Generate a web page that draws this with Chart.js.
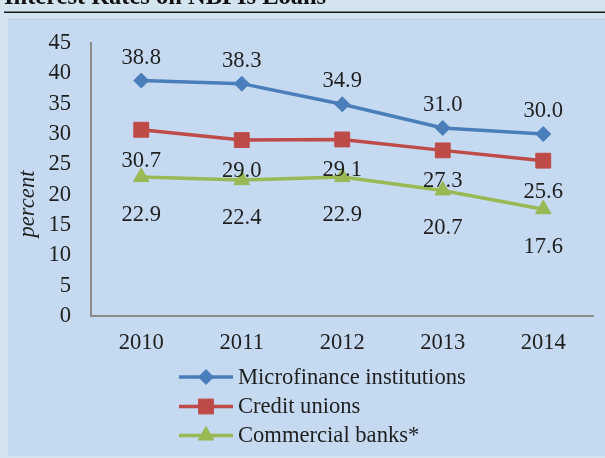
<!DOCTYPE html>
<html>
<head>
<meta charset="utf-8">
<script src="https://cdn.jsdelivr.net/npm/chart.js@4/dist/chart.umd.min.js"></script>
<style>
  html, body { margin: 0; padding: 0; width: 605px; height: 458px; overflow: hidden; background: #d3e4ee; }
  #panel { position: absolute; left: 8px; top: 19px; width: 597px; height: 437px; background: #c5d9f0; border-top: 1px solid #b6cbe3; box-sizing: border-box; }
  #wrap { position: absolute; left: 0; top: 0; width: 605px; height: 458px; }
</style>
</head>
<body>
<div id="panel"></div>
<div id="wrap"><canvas id="c" width="605" height="458"></canvas></div>
<script>
const categories = ['2010', '2011', '2012', '2013', '2014'];
const microfinance = [38.8, 38.3, 34.9, 31.0, 30.0];
const creditUnions = [30.7, 29.0, 29.1, 27.3, 25.6];
const commercialBanks = [22.9, 22.4, 22.9, 20.7, 17.6];
const seriesNames = ['Microfinance institutions', 'Credit unions', 'Commercial banks*'];
const chartTitle = 'Interest Rates on NBFIs Loans';
const yAxisLabel = 'percent';

const SERIF = '"Liberation Serif", "Times New Roman", serif';
const FS = 22.6;
const labelOffsets = [-23, 31, 37.5];

const overlay = {
  id: 'overlay',
  beforeDraw(chart) {
    const ctx = chart.ctx;
    ctx.save();
    ctx.font = 'bold 24.5px ' + SERIF;
    ctx.fillStyle = '#111';
    ctx.textAlign = 'left';
    ctx.textBaseline = 'alphabetic';
    ctx.fillText(chartTitle, 4, 4);
    ctx.strokeStyle = '#1a1a1a';
    ctx.lineWidth = 1.6;
    ctx.beginPath();
    ctx.moveTo(4, 12.3);
    ctx.lineTo(605, 12.3);
    ctx.stroke();
    ctx.restore();
  },
  afterDatasetsDraw(chart) {
    const ctx = chart.ctx;
    ctx.save();
    ctx.font = FS + 'px ' + SERIF;
    ctx.fillStyle = '#1f1f1f';
    ctx.textAlign = 'center';
    ctx.textBaseline = 'middle';
    chart.data.datasets.forEach((ds, i) => {
      const meta = chart.getDatasetMeta(i);
      meta.data.forEach((pt, j) => {
        ctx.fillText(ds.data[j].toFixed(1), pt.x, pt.y + labelOffsets[i]);
      });
    });
    // y axis title
    ctx.save();
    ctx.font = 'italic ' + FS + 'px ' + SERIF;
    ctx.translate(28.5, 204);
    ctx.rotate(-Math.PI / 2);
    ctx.fillText(yAxisLabel, 0, 0);
    ctx.restore();
    // legend
    const rowsY = [377, 406.5, 435.5];
    chart.data.datasets.forEach((ds, i) => {
      const y = rowsY[i];
      ctx.strokeStyle = ds.borderColor;
      ctx.lineWidth = ds.borderWidth;
      ctx.beginPath();
      ctx.moveTo(179, y);
      ctx.lineTo(233, y);
      ctx.stroke();
      ctx.fillStyle = ds.pointBackgroundColor;
      ctx.strokeStyle = ds.borderColor;
      ctx.lineWidth = 1;
      Chart.helpers.drawPoint(ctx, { pointStyle: ds.pointStyle, radius: ds.pointRadius, rotation: 0, borderWidth: 1 }, 206, y);
      ctx.fillStyle = '#1f1f1f';
      ctx.textAlign = 'left';
      ctx.fillText(ds.label, 238, y + 1);
    });
    ctx.restore();
  }
};

const makeDs = (label, data, color, style, radius) => ({
  label, data,
  borderColor: color,
  backgroundColor: color,
  pointBackgroundColor: color,
  pointBorderColor: color,
  borderWidth: 3.5,
  pointStyle: style,
  pointRadius: radius,
  pointHoverRadius: radius,
  pointBorderWidth: 1,
  tension: 0
});

new Chart(document.getElementById('c'), {
  type: 'line',
  data: {
    labels: categories,
    datasets: [
      makeDs(seriesNames[0], microfinance, '#4a7ebb', 'rectRot', 7.5),
      makeDs(seriesNames[1], creditUnions, '#be4b48', 'rect', 10.5),
      makeDs(seriesNames[2], commercialBanks, '#98b954', 'triangle', 9)
    ]
  },
  options: {
    responsive: false,
    animation: false,
    devicePixelRatio: 1,
    layout: { padding: { top: 43, left: 0, right: 0, bottom: 0 } },
    plugins: { legend: { display: false }, tooltip: { enabled: false }, title: { display: false } },
    scales: {
      x: {
        offset: true,
        grid: { display: false, drawTicks: false },
        border: { display: true, color: '#8c8c8c', width: 2 },
        ticks: { font: { family: SERIF, size: FS }, color: '#1f1f1f', padding: 14, maxRotation: 0 },
        afterFit(scale) { scale.height = 142; }
      },
      y: {
        min: 0, max: 45,
        grid: { display: false, drawTicks: false },
        border: { display: true, color: '#8c8c8c', width: 2 },
        ticks: { stepSize: 5, font: { family: SERIF, size: FS }, color: '#1f1f1f', padding: 20 },
        afterFit(scale) { scale.width = 91; }
      }
    }
  },
  plugins: [overlay]
});
</script>
</body>
</html>
